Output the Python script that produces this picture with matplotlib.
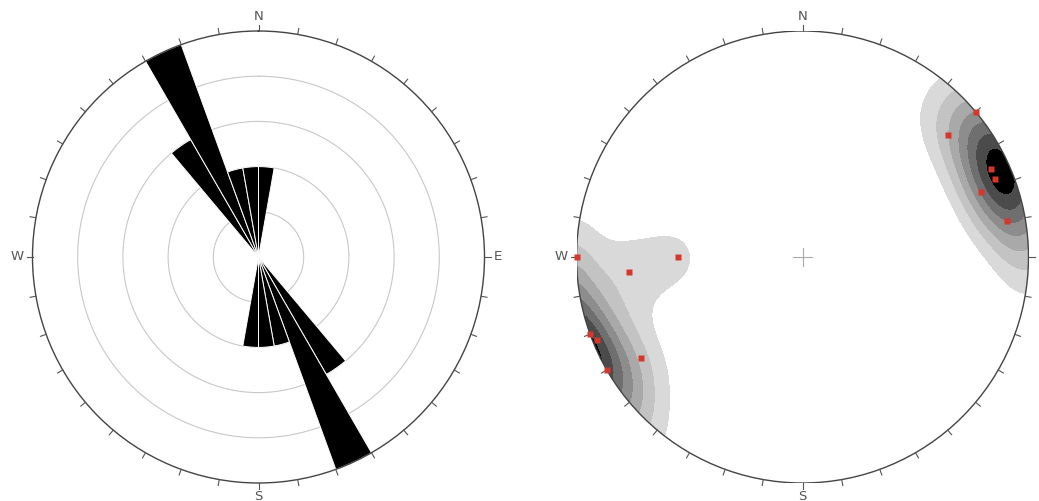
import numpy as np
import matplotlib.pyplot as plt
from matplotlib.patches import Circle

# rose diagram: start of each 10 degree strike bin and its count (bidirectional)
rose_bins = [320, 330, 340, 350, 0]
rose_counts = [3, 5, 2, 2, 2]
ring_levels = [1, 2, 3, 4]
rose_max = 5

# poles to planes, trend / plunge in degrees
pole_trend = [50, 50, 65, 68, 70, 80, 270, 265, 270, 250, 248, 240, 238]
pole_plunge = [0, 17, 9, 9, 17, 9, 0, 24, 44, 0, 2, 0, 17]

compass = ['N', 'E', 'S', 'W']

contour_levels = [1.0, 1.75, 2.5, 3.25, 4.0, 4.75, 5.5, 100]
contour_colors = ['#d9d9d9', '#c3c3c3', '#a9a9a9', '#8d8d8d', '#6f6f6f', '#4b4b4b', 'black']

W, H = 1039, 501
R_PX = 226
TICK = 6 / R_PX


def schmidt(trend, plunge):
    t = np.radians(trend)
    p = np.radians(plunge)
    r = np.sqrt(2) * np.sin((np.pi / 2 - p) / 2)
    return r * np.sin(t), r * np.cos(t)


def vec(t, p):
    return np.cos(p) * np.sin(t), np.cos(p) * np.cos(t), -np.sin(p)


def density(trend, plunge, k=27, n=400):
    xs = np.linspace(-1.05, 1.05, n)
    X, Y = np.meshgrid(xs, xs)
    Rc = np.clip(np.hypot(X, Y), 0, 1)
    gp = np.pi / 2 - 2 * np.arcsin(Rc / np.sqrt(2))
    gt = np.arctan2(X, Y)
    gx, gy, gz = vec(gt, gp)
    dens = np.zeros_like(X)
    for t, p in zip(trend, plunge):
        vx, vy, vz = vec(np.radians(t), np.radians(p))
        c = np.abs(gx * vx + gy * vy + gz * vz)
        dens += np.exp(k * (c - 1))
    return X, Y, dens


def axes_rect(cx, cy):
    return [(cx - R_PX) / W, (H - cy - R_PX) / H, 2 * R_PX / W, 2 * R_PX / H]


def compass_labels(ax):
    d = 2 * R_PX
    kw = dict(transform=ax.transAxes, fontsize=9.5, color='#555555', family='DejaVu Sans')
    ax.text(0.5, 1 + 8 / d, compass[0], ha='center', va='bottom', **kw)
    ax.text(1 + 9 / d, 0.5, compass[1], ha='left', va='center', **kw)
    ax.text(0.5, -7 / d, compass[2], ha='center', va='top', **kw)
    ax.text(-9 / d, 0.5, compass[3], ha='right', va='center', **kw)


fig = plt.figure(figsize=(W / 100, H / 100), dpi=100)
fig.patch.set_facecolor('white')

# ---- rose diagram ----
ax1 = fig.add_axes(axes_rect(258.5, 257), projection='polar')
ax1.set_theta_zero_location('N')
ax1.set_theta_direction(-1)
ax1.set_ylim(0, rose_max)
ax1.grid(False)
ax1.set_yticks([])
ax1.set_xticks([])
ax1.spines['polar'].set_color('#444444')
ax1.spines['polar'].set_linewidth(1.0)

th = np.linspace(0, 2 * np.pi, 361)
for r in ring_levels:
    ax1.plot(th, np.full_like(th, r), color='#c8c8c8', lw=0.8, zorder=1)

for a in np.radians(np.arange(0, 360, 10)):
    ax1.plot([a, a], [rose_max, rose_max * (1 + TICK)], color='#555555', lw=0.8,
             clip_on=False, zorder=3)

centers = [np.radians(b + 5) for b in rose_bins] + [np.radians(b + 185) for b in rose_bins]
heights = rose_counts + rose_counts
ax1.bar(centers, heights, width=np.radians(10), color='black', edgecolor='white',
        linewidth=0.7, zorder=2)
compass_labels(ax1)

# ---- stereonet ----
ax2 = fig.add_axes(axes_rect(802.5, 257))
ax2.set_xlim(-1, 1)
ax2.set_ylim(-1, 1)
ax2.set_aspect('equal')
ax2.axis('off')

X, Y, dens = density(pole_trend, pole_plunge)
rim = Circle((0, 0), 1, transform=ax2.transData)
cs = ax2.contourf(X, Y, dens, levels=contour_levels, colors=contour_colors, zorder=1)
cs.set_clip_path(rim)

ax2.add_patch(Circle((0, 0), 1, fill=False, ec='#444444', lw=1.0, zorder=3))
for a in np.radians(np.arange(0, 360, 10)):
    ax2.plot([np.sin(a), (1 + TICK) * np.sin(a)], [np.cos(a), (1 + TICK) * np.cos(a)],
             color='#555555', lw=0.8, clip_on=False, zorder=3)
ax2.plot([-0.04, 0.04], [0, 0], color='#aaaaaa', lw=0.8, zorder=3)
ax2.plot([0, 0], [-0.04, 0.04], color='#aaaaaa', lw=0.8, zorder=3)

px, py = schmidt(np.array(pole_trend), np.array(pole_plunge))
ax2.plot(px, py, 's', ms=4, color='#d6372c', mec='none', zorder=5, clip_on=False)
compass_labels(ax2)

fig.savefig('out.png', dpi=100, facecolor='white')
